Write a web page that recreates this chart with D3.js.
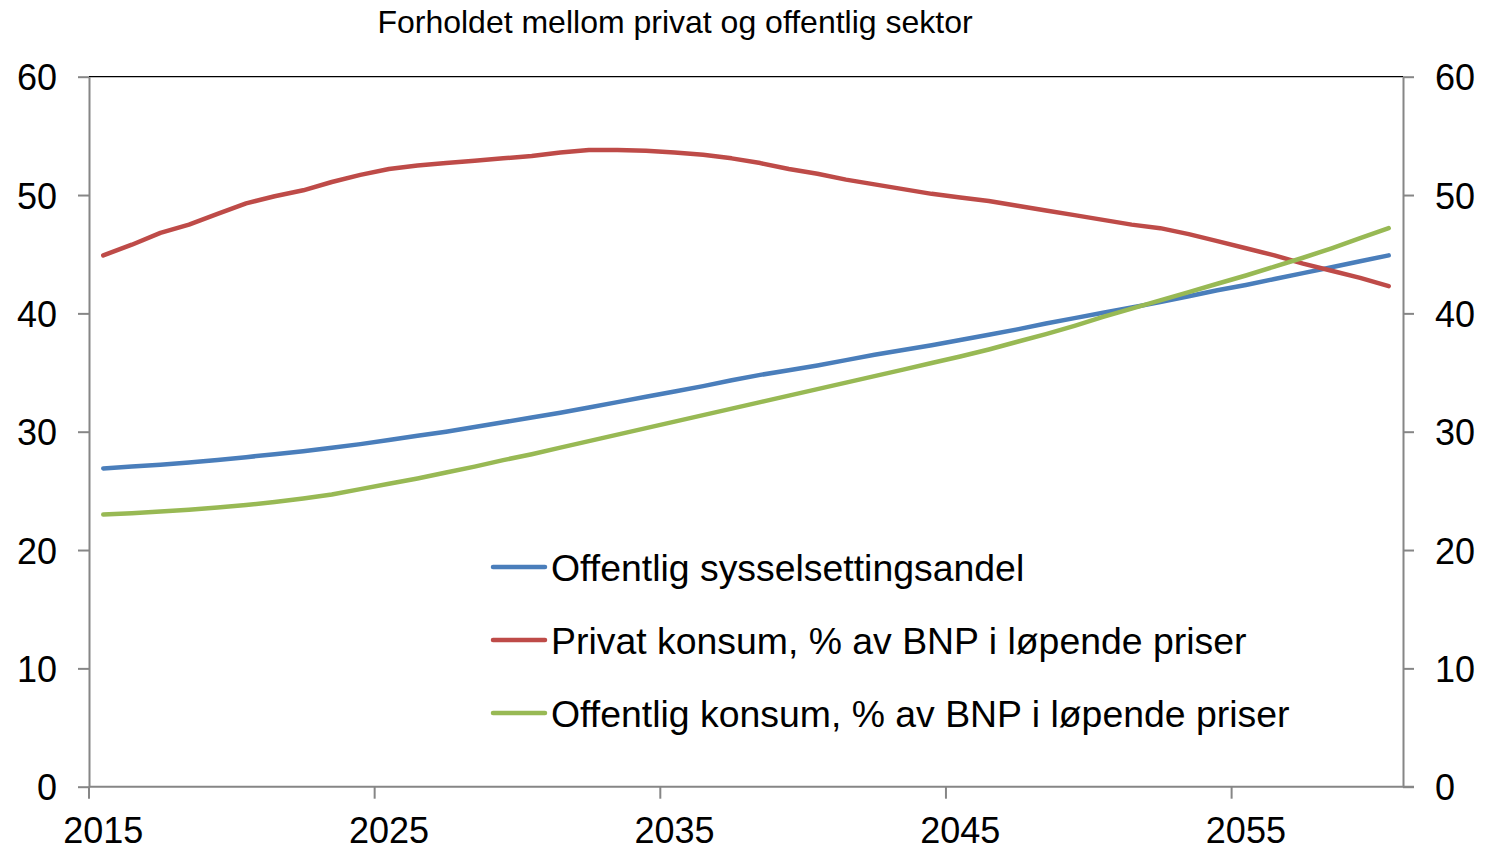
<!DOCTYPE html>
<html>
<head>
<meta charset="utf-8">
<script src="https://cdn.jsdelivr.net/npm/d3@7"></script>
<style>
  body { margin: 0; background: #fff; }
  text { font-family: "Liberation Sans", Arial, sans-serif; fill: #000; }
</style>
</head>
<body>
<script>
// years on the category axis
const years = d3.range(2015, 2061);
const yearLabels = [2015, 2025, 2035, 2045, 2055];
const yTicks = [0, 10, 20, 30, 40, 50, 60];

const seriesNames = [
  "Offentlig sysselsettingsandel",
  "Privat konsum, % av BNP i løpende priser",
  "Offentlig konsum, % av BNP i løpende priser"
];

const offentligSyssel = [
  26.9, 27.05, 27.2, 27.4, 27.6, 27.85, 28.1, 28.35, 28.65, 28.95,
  29.3, 29.65, 30.0, 30.4, 30.8, 31.2, 31.6, 32.05, 32.5, 32.95,
  33.4, 33.85, 34.35, 34.8, 35.2, 35.6, 36.05, 36.5, 36.9, 37.3,
  37.75, 38.2, 38.65, 39.15, 39.6, 40.05, 40.5, 40.95, 41.45, 41.95,
  42.4, 42.9, 43.4, 43.9, 44.4, 44.9
];

const privatKonsum = [
  44.9, 45.8, 46.8, 47.5, 48.4, 49.3, 49.9, 50.4, 51.1, 51.7,
  52.2, 52.5, 52.7, 52.9, 53.1, 53.3, 53.6, 53.8, 53.8, 53.75,
  53.6, 53.4, 53.1, 52.7, 52.2, 51.8, 51.3, 50.9, 50.5, 50.1,
  49.8, 49.5, 49.1, 48.7, 48.3, 47.9, 47.5, 47.2, 46.7, 46.1,
  45.5, 44.9, 44.2, 43.6, 43.0, 42.3
];

const offentligKonsum = [
  23.0, 23.1, 23.25, 23.4, 23.6, 23.8, 24.05, 24.35, 24.7, 25.15,
  25.6, 26.05, 26.55, 27.05, 27.6, 28.1, 28.65, 29.2, 29.75, 30.3,
  30.85, 31.4, 31.95, 32.5, 33.05, 33.6, 34.15, 34.7, 35.25, 35.8,
  36.35, 36.95, 37.6, 38.25, 38.95, 39.7, 40.4, 41.1, 41.8, 42.5,
  43.2, 43.95, 44.7, 45.5, 46.35, 47.2
];

const colors = ["#4a7ebb", "#be4b48", "#98b954"];
const seriesValues = [offentligSyssel, privatKonsum, offentligKonsum];

const width = 1487, height = 848;
const plotLeft = 89, plotRight = 1403, plotTop = 76.7, plotBottom = 786.7;

const svg = d3.select("body").append("svg")
  .attr("width", width)
  .attr("height", height);

const x = d3.scaleBand().domain(years).range([plotLeft, plotRight]);
const y = d3.scaleLinear().domain([0, 60]).range([plotBottom, plotTop]);

// top border
svg.append("line")
  .attr("x1", plotLeft).attr("x2", plotRight)
  .attr("y1", plotTop).attr("y2", plotTop)
  .attr("stroke", "#000").attr("stroke-width", 1.2);

// left axis
const yLeft = svg.append("g")
  .attr("transform", `translate(${plotLeft},0)`)
  .call(d3.axisLeft(y).tickValues(yTicks).tickSize(11).tickSizeOuter(0).tickPadding(21));

// right axis
const yRight = svg.append("g")
  .attr("transform", `translate(${plotRight},0)`)
  .call(d3.axisRight(y).tickValues(yTicks).tickSize(11).tickSizeOuter(0).tickPadding(21));

// bottom axis, ticks on the category boundaries
const xAxis = svg.append("g")
  .attr("transform", `translate(0,${plotBottom})`)
  .call(d3.axisBottom(x).tickValues(yearLabels).tickSize(12).tickSizeOuter(0).tickPadding(19));
xAxis.selectAll(".tick line").attr("x1", -x.bandwidth() / 2).attr("x2", -x.bandwidth() / 2);
xAxis.select(".domain").attr("d", `M${plotLeft},0H${plotRight + 11}`);

[yLeft, yRight, xAxis].forEach(g => {
  g.selectAll(".domain, .tick line").attr("stroke", "#868686").attr("stroke-width", 2);
  g.selectAll(".tick text").style("font-size", "36px");
});
yLeft.selectAll(".tick text").attr("dy", "0.36em");
yRight.selectAll(".tick text").attr("dy", "0.36em");
xAxis.selectAll(".tick text").attr("dy", "0.71em");

// lines
const line = d3.line()
  .x((d, i) => x(years[i]) + x.bandwidth() / 2)
  .y(d => y(d));

seriesValues.forEach((vals, k) => {
  svg.append("path")
    .datum(vals)
    .attr("fill", "none")
    .attr("stroke", colors[k])
    .attr("stroke-width", 4.5)
    .attr("stroke-linecap", "round")
    .attr("stroke-linejoin", "round")
    .attr("d", line);
});

// title
svg.append("text")
  .attr("x", 675).attr("y", 33)
  .attr("text-anchor", "middle")
  .style("font-size", "32px")
  .text("Forholdet mellom privat og offentlig sektor");

// legend
const legend = svg.append("g");
seriesNames.forEach((name, k) => {
  const ly = 567 + k * 73;
  legend.append("line")
    .attr("x1", 493).attr("x2", 545)
    .attr("y1", ly).attr("y2", ly)
    .attr("stroke", colors[k]).attr("stroke-width", 4.5)
    .attr("stroke-linecap", "round");
  legend.append("text")
    .attr("x", 551).attr("y", ly + 14)
    .style("font-size", "37.4px")
    .text(name);
});
</script>
</body>
</html>
